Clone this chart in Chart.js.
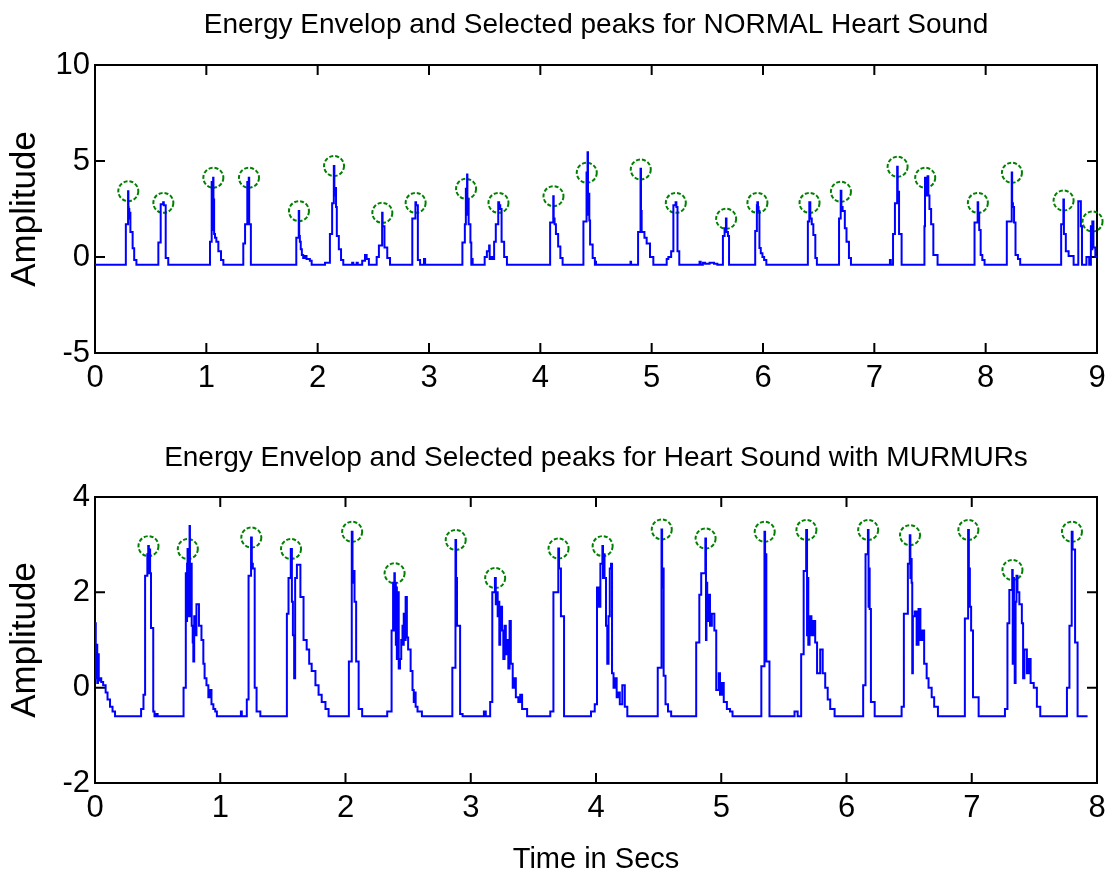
<!DOCTYPE html>
<html>
<head>
<meta charset="utf-8">
<title>Energy Envelop and Selected peaks</title>
<script src="https://cdn.jsdelivr.net/npm/chart.js@4.4.1/dist/chart.umd.min.js"></script>
<style>
    body { margin: 0; background: #fff; }
    .panel { position: absolute; left: 0; }
</style>
</head>
<body>
<div class="panel" style="top:0px"><canvas id="normalChart" width="1112" height="410" style="width:1112px;height:410px"></canvas></div>
<div class="panel" style="top:430px"><canvas id="murmurChart" width="1112" height="448" style="width:1112px;height:448px"></canvas></div>
<script>
// Energy envelope of the normal recording, [time in s, amplitude], each point starts a level
const normalEnvelope = [
    [0, -0.4], [0.277, 1.7], [0.297, 3.43], [0.3, 2.6], [0.302, 2.0], [0.305, 2.5], [0.308, 2.0], [0.31, 2.3], [0.318, 1.3], [0.338, 0.45], [0.352, -0.15], [0.372, -0.4],
    [0.569, 0.75], [0.59, 2.75], [0.612, 2.85], [0.618, 2.7], [0.635, -0.05], [0.658, -0.4],
    [1.033, 0.8], [1.048, 3.9], [1.051, 1.6], [1.055, 3.5], [1.058, 1.8], [1.061, 4.13], [1.064, 1.4], [1.067, 3.0], [1.07, 1.2], [1.078, 1.0], [1.09, 0.8], [1.108, 0.3], [1.132, -0.15], [1.153, -0.4],
    [1.332, 0.7], [1.348, 1.7], [1.368, 3.9], [1.372, 2.0], [1.376, 3.7], [1.381, 4.13], [1.385, 1.7], [1.4, -0.4],
    [1.808, 1.0], [1.83, 2.4], [1.834, 1.1], [1.84, 0.8], [1.848, 0.4], [1.858, 0.1], [1.87, -0.05], [1.885, 0.05], [1.9, -0.1], [1.93, -0.2], [1.946, -0.4],
    [2.066, -0.3], [2.11, 1.2], [2.13, 2.8], [2.145, 4.74], [2.15, 3.2], [2.158, 3.6], [2.165, 2.6], [2.172, 1.1], [2.19, 0.4], [2.21, -0.15], [2.23, -0.4],
    [2.31, -0.3], [2.32, -0.4], [2.35, -0.3], [2.36, -0.4], [2.4, -0.2], [2.425, 0.1], [2.44, -0.1], [2.46, -0.4],
    [2.53, 0.0], [2.55, 0.6], [2.579, 2.3], [2.583, 1.6], [2.6, 0.5], [2.625, -0.05], [2.65, -0.4],
    [2.85, 2.0], [2.878, 2.85], [2.884, 2.7], [2.9, -0.15], [2.92, -0.4], [2.955, -0.1], [2.965, -0.4],
    [3.3, 0.75], [3.322, 1.7], [3.331, 3.55], [3.335, 2.3], [3.342, 4.3], [3.345, 2.2], [3.35, 3.0], [3.356, 1.7], [3.372, 0.75], [3.38, -0.4], [3.388, -0.1], [3.392, -0.4],
    [3.5, 0.0], [3.52, 0.3], [3.54, 0.6], [3.545, -0.1], [3.56, 0.0], [3.575, -0.1], [3.585, 0.8], [3.6, 1.7], [3.622, 2.85], [3.63, 2.7], [3.64, 2.5], [3.652, 0.8], [3.675, 0.0], [3.7, -0.4],
    [4.088, 1.8], [4.116, 3.17], [4.12, 2.0], [4.128, 1.7], [4.14, 1.2], [4.16, 0.55], [4.18, -0.05], [4.2, -0.4],
    [4.387, 1.85], [4.415, 4.4], [4.419, 2.5], [4.424, 5.45], [4.428, 2.2], [4.432, 3.3], [4.44, 1.9], [4.447, 0.65], [4.47, -0.05], [4.49, -0.4], [4.495, -0.25], [4.5, -0.4],
    [4.81, -0.25], [4.815, -0.4], [4.878, 1.3], [4.9, 4.6], [4.904, 2.4], [4.91, 1.3], [4.935, 1.0], [4.955, 0.7], [4.985, 0.0], [5.015, -0.4],
    [5.135, -0.1], [5.15, 0.0], [5.175, 0.3], [5.195, 2.7], [5.215, 2.85], [5.222, 2.6], [5.232, 0.3], [5.248, -0.4],
    [5.43, -0.25], [5.44, -0.4], [5.46, -0.3], [5.48, -0.35], [5.52, -0.3], [5.56, -0.35], [5.59, -0.4],
    [5.64, 1.1], [5.655, 1.5], [5.667, 2.0], [5.672, 1.3], [5.685, 1.1], [5.695, -0.4],
    [5.93, 1.35], [5.945, 2.7], [5.949, 2.85], [5.955, 2.6], [5.96, 2.4], [5.968, 0.47], [5.98, 0.2], [5.995, 0.0], [6.01, -0.15], [6.03, -0.4],
    [6.403, 1.85], [6.416, 2.85], [6.425, 2.0], [6.438, 1.7], [6.452, 1.15], [6.47, -0.05], [6.484, -0.4],
    [6.683, 2.0], [6.698, 3.45], [6.704, 2.6], [6.715, 2.4], [6.735, 1.5], [6.75, 0.8], [6.772, -0.05], [6.79, -0.4],
    [7.14, -0.15], [7.148, -0.4], [7.168, 1.2], [7.185, 2.8], [7.205, 4.7], [7.21, 3.0], [7.215, 3.4], [7.222, 1.2], [7.245, -0.4],
    [7.45, 1.6], [7.455, 4.13], [7.462, 3.2], [7.47, 3.5], [7.478, 4.2], [7.485, 3.2], [7.495, 2.5], [7.51, 1.7], [7.53, 0.1], [7.568, -0.4],
    [7.9, 1.8], [7.928, 2.85], [7.933, 2.3], [7.942, 1.4], [7.955, 0.1], [7.97, -0.15], [7.99, -0.4],
    [8.19, 1.85], [8.234, 4.4], [8.238, 2.8], [8.245, 2.6], [8.255, 1.8], [8.268, 0.1], [8.29, -0.1], [8.31, -0.4],
    [8.678, 1.7], [8.698, 3.0], [8.703, 1.2], [8.72, 0.3], [8.745, 0.05], [8.79, -0.4],
    [8.832, 2.9], [8.855, 1.6], [8.865, -0.4], [8.905, 0.0], [8.93, -0.4], [8.945, 1.6], [8.952, 0.4], [8.958, 1.85], [8.968, 0.5], [8.985, 0.0], [9.0, 0.0]
];

// Selected peaks (green circles), normal recording
const normalPeakTime = [0.299, 0.614, 1.063, 1.383, 1.832, 2.147, 2.581, 2.88, 3.333, 3.624, 4.118, 4.417, 4.902, 5.217, 5.669, 5.95, 6.418, 6.70, 7.209, 7.457, 7.93, 8.236, 8.70, 8.96];
const normalPeakAmp = [3.43, 2.82, 4.13, 4.13, 2.39, 4.74, 2.3, 2.82, 3.55, 2.82, 3.17, 4.39, 4.56, 2.82, 1.99, 2.82, 2.82, 3.4, 4.7, 4.13, 2.82, 4.39, 2.94, 1.85];

// Energy envelope of the murmur recording
const murmurEnvelope = [
    [0, 1.35], [0.006, 0.2], [0.012, 0.9], [0.018, 0.1], [0.024, 0.7], [0.03, 0.15], [0.038, 0.2], [0.05, 0.12], [0.065, 0.05], [0.085, -0.1], [0.1, -0.25], [0.12, -0.4], [0.14, -0.5], [0.16, -0.6],
    [0.368, -0.45], [0.387, -0.15], [0.4, 2.35], [0.418, 2.8], [0.425, 2.97], [0.43, 2.4], [0.435, 2.9], [0.44, 2.4], [0.447, 1.25], [0.465, -0.5], [0.475, -0.6], [0.49, -0.55], [0.5, -0.6],
    [0.707, 0.0], [0.725, 2.4], [0.73, 1.4], [0.735, 2.6], [0.739, 2.91], [0.743, 1.5], [0.748, 2.9], [0.752, 1.6], [0.755, 3.39], [0.758, 1.5], [0.765, 2.6], [0.772, 1.3], [0.78, 0.95], [0.785, 0.55], [0.792, 1.5], [0.8, 1.1], [0.81, 1.75], [0.83, 1.3], [0.85, 1.0], [0.865, 0.5], [0.875, 0.2], [0.89, 0.05], [0.905, -0.2], [0.92, -0.05], [0.93, -0.35], [0.945, -0.45], [0.96, -0.5], [0.973, -0.6],
    [1.165, -0.5], [1.172, -0.6], [1.212, -0.25], [1.226, 2.35], [1.246, 3.15], [1.252, 2.6], [1.26, 2.5], [1.275, 0.0], [1.29, -0.5], [1.32, -0.6],
    [1.532, 1.55], [1.545, 2.3], [1.563, 2.91], [1.572, 1.8], [1.58, 1.1], [1.59, 0.2], [1.598, 2.3], [1.612, 2.58], [1.64, 1.9], [1.665, 1.0], [1.69, 0.8], [1.71, 0.5], [1.73, 0.35], [1.76, 0.05], [1.785, -0.15], [1.81, -0.3], [1.84, -0.45], [1.865, -0.6],
    [2.027, 0.55], [2.05, 3.27], [2.056, 2.2], [2.062, 2.45], [2.072, 1.8], [2.085, 0.55], [2.105, -0.45], [2.133, -0.6],
    [2.333, -0.5], [2.368, 1.2], [2.38, 2.2], [2.39, 2.4], [2.394, 1.2], [2.398, 2.2], [2.402, 0.9], [2.406, 2.1], [2.41, 0.6], [2.42, 2.0], [2.425, 0.4], [2.435, 0.6], [2.445, 1.0], [2.455, 1.3], [2.46, 0.9], [2.465, 1.55], [2.475, 1.0], [2.48, 1.9], [2.49, 1.05], [2.5, 0.8], [2.52, 0.35], [2.535, -0.05], [2.545, -0.3], [2.55, -0.1], [2.56, -0.4], [2.575, -0.5], [2.61, -0.6],
    [2.853, 0.42], [2.878, 3.1], [2.883, 2.3], [2.89, 1.3], [2.915, -0.55], [2.935, -0.6],
    [3.105, -0.5], [3.12, -0.6], [3.155, -0.3], [3.172, 2.0], [3.193, 2.3], [3.2, 1.75], [3.21, 2.0], [3.215, 1.5], [3.22, 1.8], [3.228, 0.9], [3.235, 1.7], [3.25, 1.2], [3.26, 0.6], [3.27, 1.3], [3.28, 0.7], [3.29, 1.0], [3.3, 0.4], [3.31, 1.4], [3.32, 0.5], [3.335, 0.0], [3.35, 0.2], [3.36, -0.2], [3.38, -0.3], [3.395, -0.15], [3.41, -0.45], [3.45, -0.6],
    [3.635, -0.5], [3.66, 2.0], [3.699, 2.92], [3.705, 2.5], [3.72, 1.5], [3.745, -0.6],
    [3.96, -0.5], [3.99, -0.35], [4.008, 2.1], [4.02, 1.7], [4.035, 2.6], [4.051, 2.97], [4.056, 2.3], [4.062, 2.8], [4.068, 2.3], [4.08, 1.3], [4.09, 0.5], [4.1, 1.5], [4.11, 2.5], [4.12, 2.6], [4.128, 0.3], [4.14, 0.0], [4.155, 0.2], [4.165, -0.2], [4.18, -0.1], [4.19, -0.35], [4.21, 0.05], [4.23, -0.4], [4.25, -0.6],
    [4.493, 0.42], [4.523, 3.32], [4.528, 2.1], [4.534, 2.5], [4.54, 0.25], [4.555, -0.35], [4.575, -0.5], [4.6, -0.6],
    [4.8, 0.95], [4.825, 1.95], [4.84, 2.4], [4.873, 3.13], [4.878, 1.0], [4.882, 2.2], [4.888, 1.4], [4.895, 1.95], [4.91, 1.3], [4.925, 1.55], [4.945, 1.2], [4.96, -0.05], [4.98, 0.3], [4.99, -0.15], [5.005, 0.1], [5.02, -0.3], [5.045, -0.45], [5.07, -0.5], [5.09, -0.6],
    [5.32, 0.45], [5.345, 3.27], [5.35, 2.8], [5.36, 0.55], [5.385, -0.6],
    [5.585, -0.5], [5.61, -0.6], [5.638, 0.7], [5.658, 2.45], [5.678, 3.31], [5.685, 1.1], [5.69, 2.3], [5.695, 0.9], [5.705, 1.5], [5.72, 1.1], [5.735, 1.4], [5.75, 0.95], [5.765, 0.3], [5.79, 0.8], [5.81, 0.3], [5.83, 0.0], [5.85, -0.25], [5.87, -0.45], [5.905, -0.6],
    [6.133, 0.05], [6.152, 2.8], [6.171, 3.31], [6.176, 1.7], [6.18, 2.5], [6.185, 1.65], [6.195, -0.3], [6.225, -0.6],
    [6.44, -0.4], [6.458, 1.55], [6.49, 2.6], [6.505, 3.2], [6.51, 2.3], [6.515, 2.7], [6.52, 2.2], [6.525, 0.3], [6.53, 1.5], [6.545, 1.6], [6.56, 0.9], [6.575, 1.65], [6.59, 1.0], [6.605, 1.2], [6.62, 0.5], [6.64, 0.2], [6.655, 0.0], [6.68, -0.2], [6.7, -0.4], [6.73, -0.6],
    [6.945, 1.45], [6.971, 3.31], [6.977, 2.5], [6.985, 1.7], [6.995, 1.2], [7.01, -0.2], [7.055, -0.6],
    [7.265, -0.45], [7.285, 1.35], [7.3, 2.05], [7.323, 2.47], [7.327, 0.5], [7.332, 2.3], [7.337, 1.0], [7.343, 0.1], [7.35, 1.8], [7.357, 2.35], [7.365, 2.0], [7.38, 1.75], [7.4, 1.35], [7.41, 0.2], [7.42, 0.8], [7.44, 0.3], [7.455, 0.6], [7.47, 0.1], [7.495, 0.0], [7.52, -0.4], [7.547, -0.6],
    [7.76, 0.0], [7.78, 1.3], [7.798, 3.27], [7.805, 2.9], [7.825, 0.95], [7.845, -0.6], [7.925, -0.6]
];

const murmurPeakTime = [0.427, 0.741, 1.248, 1.565, 2.053, 2.392, 2.88, 3.195, 3.701, 4.053, 4.525, 4.875, 5.347, 5.68, 6.173, 6.507, 6.973, 7.325, 7.80];
const murmurPeakAmp = [2.97, 2.91, 3.15, 2.91, 3.27, 2.40, 3.10, 2.30, 2.92, 2.97, 3.32, 3.13, 3.27, 3.31, 3.31, 3.20, 3.31, 2.47, 3.27];

const titleFont = '"Liberation Sans", Arial, sans-serif';
const tickFont = '"Liberation Sans", Arial, sans-serif';

Chart.defaults.font.family = titleFont;
Chart.defaults.color = '#000';

// MATLAB-style box with inward tick marks on all four sides
const boxTicks = {
    id: 'boxTicks',
    beforeDatasetsDraw(chart) {
        const { ctx, chartArea: a, scales: { x, y } } = chart;
        ctx.save();
        ctx.strokeStyle = '#000';
        ctx.lineWidth = 2;
        ctx.strokeRect(a.left, a.top, a.right - a.left, a.bottom - a.top);
        ctx.beginPath();
        x.ticks.forEach(t => {
            const px = x.getPixelForValue(t.value);
            ctx.moveTo(px, a.bottom); ctx.lineTo(px, a.bottom - 10);
            ctx.moveTo(px, a.top); ctx.lineTo(px, a.top + 10);
        });
        y.ticks.forEach(t => {
            const py = y.getPixelForValue(t.value);
            ctx.moveTo(a.left, py); ctx.lineTo(a.left + 10, py);
            ctx.moveTo(a.right, py); ctx.lineTo(a.right - 10, py);
        });
        ctx.stroke();
        ctx.restore();
    },
    // dashed look of the peak markers
    beforeDatasetDraw(chart, args) {
        if (args.index === 1) chart.ctx.setLineDash([4, 2]);
    },
    afterDatasetDraw(chart, args) {
        if (args.index === 1) chart.ctx.setLineDash([]);
    }
};

function buildChart(canvasId, cfg) {
    const peaks = cfg.peakTime.map((t, i) => ({ x: t, y: cfg.peakAmp[i] }));
    const ctx = document.getElementById(canvasId).getContext('2d');
    return new Chart(ctx, {
        type: 'line',
        data: {
            datasets: [
                {
                    data: cfg.envelope,
                    borderColor: 'rgb(0,0,255)',
                    borderWidth: 2,
                    pointRadius: 0,
                    stepped: true,
                    fill: false
                },
                {
                    data: peaks,
                    showLine: false,
                    pointRadius: 10,
                    pointBorderWidth: 2,
                    pointBorderColor: 'rgb(0,128,0)',
                    pointBackgroundColor: 'rgba(0,0,0,0)',
                    clip: false
                }
            ]
        },
        options: {
            responsive: false,
            animation: false,
            layout: { padding: { left: 0, right: 15, top: 0, bottom: 0 } },
            plugins: {
                legend: { display: false },
                tooltip: { enabled: false },
                title: {
                    display: true,
                    fullSize: false,
                    text: cfg.title,
                    font: { family: titleFont, size: 28, weight: 'normal', lineHeight: 1 },
                    padding: cfg.titlePadding,
                    color: '#000'
                }
            },
            scales: {
                x: {
                    type: 'linear',
                    min: 0,
                    max: cfg.xMax,
                    grid: { display: false, drawTicks: false },
                    border: { display: false },
                    ticks: { stepSize: 1, padding: 7, font: { family: tickFont, size: 31 }, color: '#000' },
                    title: {
                        display: !!cfg.xTitle,
                        text: cfg.xTitle || '',
                        font: { family: titleFont, size: 29 },
                        padding: { top: 0, bottom: 1 },
                        color: '#000'
                    },
                    afterFit(s) { s.height = cfg.xAxisHeight; s.paddingLeft = 0; s.paddingRight = 0; }
                },
                y: {
                    min: cfg.yMin,
                    max: cfg.yMax,
                    grid: { display: false, drawTicks: false },
                    border: { display: false },
                    ticks: { stepSize: cfg.yStep, padding: 5, font: { family: tickFont, size: 31 }, color: '#000' },
                    title: {
                        display: true,
                        text: 'Amplitude',
                        font: { family: titleFont, size: 35 },
                        padding: { top: 4, bottom: 0 },
                        color: '#000'
                    },
                    afterFit(s) { s.width = 95; s.paddingTop = 0; s.paddingBottom = 0; }
                }
            }
        },
        plugins: [boxTicks]
    });
}

buildChart('normalChart', {
    envelope: normalEnvelope,
    peakTime: normalPeakTime,
    peakAmp: normalPeakAmp,
    title: 'Energy Envelop and Selected peaks for NORMAL Heart Sound',
    titlePadding: { top: 11, bottom: 26 },
    xMax: 9,
    yMin: -5, yMax: 10, yStep: 5,
    xAxisHeight: 57
});

buildChart('murmurChart', {
    envelope: murmurEnvelope,
    peakTime: murmurPeakTime,
    peakAmp: murmurPeakAmp,
    title: 'Energy Envelop and Selected peaks for Heart Sound with MURMURs',
    titlePadding: { top: 14, bottom: 25 },
    xMax: 8,
    yMin: -2, yMax: 4, yStep: 2,
    xTitle: 'Time in Secs',
    xAxisHeight: 95
});
</script>
</body>
</html>
